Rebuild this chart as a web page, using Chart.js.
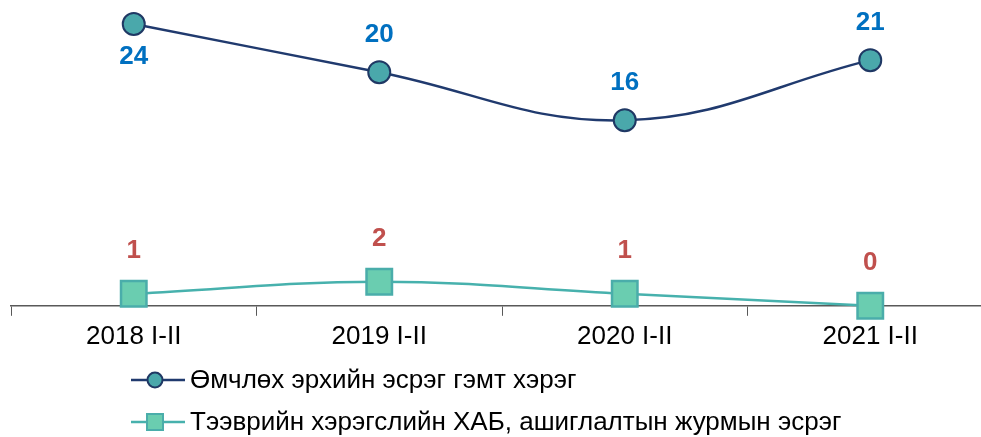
<!DOCTYPE html>
<html lang="mn">
<head>
    <meta charset="UTF-8">
    <title>Гэмт хэрэг, I-II сар</title>
    <script src="https://cdn.jsdelivr.net/npm/chart.js"></script>
    <style>
        html, body {
            margin: 0;
            padding: 0;
            background: #fff;
            overflow: hidden;
        }
        #crimeChart {
            position: absolute;
            left: 0;
            top: 0;
        }
    </style>
</head>
<body>
    <canvas id="crimeChart" width="1000" height="437"></canvas>

    <script>
        const periods = ['2018 I-II', '2019 I-II', '2020 I-II', '2021 I-II'];
        const propertyCrimes = [24, 20, 16, 21];
        const trafficCrimes = [1, 2, 1, 0];
        const seriesNames = [
            'Өмчлөх эрхийн эсрэг гэмт хэрэг',
            'Тээврийн хэрэгслийн ХАБ, ашиглалтын журмын эсрэг'
        ];

        const FONT = '"Liberation Sans", Arial, sans-serif';

        // value labels above points (first navy one sits below, like the original)
        const valueLabels = {
            id: 'valueLabels',
            afterDatasetsDraw(chart) {
                const ctx = chart.ctx;
                ctx.save();
                ctx.font = 'bold 26px ' + FONT;
                ctx.textAlign = 'center';
                ctx.textBaseline = 'middle';
                chart.data.datasets.forEach((ds, i) => {
                    const meta = chart.getDatasetMeta(i);
                    ctx.fillStyle = ds.labelColor;
                    meta.data.forEach((pt, j) => {
                        let dy = -ds.labelGap;
                        if (i === 0 && j === 0) dy = 33;
                        ctx.fillText(String(ds.data[j]), pt.x, pt.y + dy);
                    });
                });
                ctx.restore();
            }
        };

        // vertical legend, left aligned, with line + marker symbol
        const sideLegend = {
            id: 'sideLegend',
            afterDraw(chart) {
                const ctx = chart.ctx;
                ctx.save();
                ctx.font = '26px ' + FONT;
                ctx.textBaseline = 'middle';
                const rows = [380, 422];
                chart.data.datasets.forEach((ds, i) => {
                    const y = rows[i];
                    ctx.strokeStyle = ds.borderColor;
                    ctx.lineWidth = 2.5;
                    ctx.beginPath();
                    ctx.moveTo(131, y);
                    ctx.lineTo(185, y);
                    ctx.stroke();
                    ctx.fillStyle = ds.pointBackgroundColor;
                    ctx.strokeStyle = ds.pointBorderColor;
                    ctx.lineWidth = 2;
                    ctx.beginPath();
                    if (ds.pointStyle === 'circle') {
                        ctx.arc(155, y, 7.5, 0, Math.PI * 2);
                    } else {
                        ctx.rect(147, y - 8, 16, 16);
                    }
                    ctx.fill();
                    ctx.stroke();
                    ctx.fillStyle = '#000';
                    ctx.fillText(ds.label, 190, y + 1);
                });
                ctx.restore();
            }
        };

        new Chart(document.getElementById('crimeChart'), {
            type: 'line',
            data: {
                labels: periods,
                datasets: [{
                    label: seriesNames[0],
                    data: propertyCrimes,
                    yAxisID: 'y1',
                    clip: false,
                    borderColor: '#203a6e',
                    borderWidth: 2.5,
                    tension: 0.4,
                    pointStyle: 'circle',
                    pointRadius: 11,
                    pointBorderWidth: 2,
                    pointBackgroundColor: '#4aa8ab',
                    pointBorderColor: '#1f3864',
                    labelColor: '#0070c0',
                    labelGap: 37
                }, {
                    label: seriesNames[1],
                    data: trafficCrimes,
                    yAxisID: 'y',
                    clip: false,
                    borderColor: '#47b1ad',
                    borderWidth: 2.5,
                    tension: 0.4,
                    pointStyle: 'rect',
                    pointRadius: 18,
                    pointBorderWidth: 2.5,
                    pointBackgroundColor: '#6acdb0',
                    pointBorderColor: '#4aadaa',
                    labelColor: '#c0504d',
                    labelGap: 43
                }]
            },
            options: {
                responsive: false,
                animation: false,
                layout: {
                    autoPadding: false,
                    padding: { left: 11, right: 7, top: 5, bottom: 80 }
                },
                plugins: {
                    legend: { display: false },
                    tooltip: { enabled: false }
                },
                scales: {
                    x: {
                        offset: true,
                        grid: {
                            offset: true,
                            drawOnChartArea: false,
                            drawTicks: true,
                            tickLength: 10,
                            color: '#595959'
                        },
                        border: { display: true, color: '#595959', width: 1.5 },
                        ticks: {
                            color: '#000',
                            padding: 5,
                            font: { family: FONT, size: 26 }
                        }
                    },
                    y: {
                        display: false,
                        min: 0,
                        max: 25
                    },
                    y1: {
                        display: false,
                        min: 0.583,
                        max: 25.583
                    }
                }
            },
            plugins: [valueLabels, sideLegend]
        });
    </script>
</body>
</html>
